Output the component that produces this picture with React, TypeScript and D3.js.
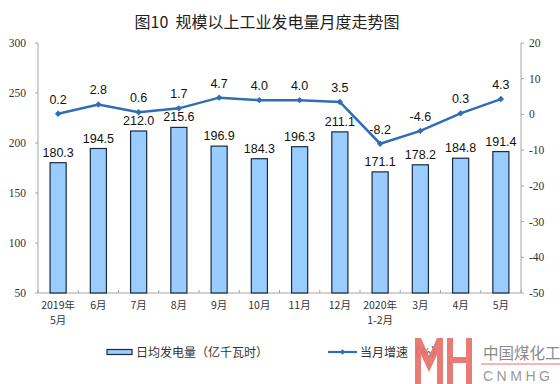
import React from "react";
import * as d3 from "d3";

const categories = ["2019年\n5月", "6月", "7月", "8月", "9月", "10月", "11月", "12月", "2020年\n1-2月", "3月", "4月", "5月"];
const dailyOutput = [180.3, 194.5, 212.0, 215.6, 196.9, 184.3, 196.3, 211.1, 171.1, 178.2, 184.8, 191.4];
const growth = [0.2, 2.8, 0.6, 1.7, 4.7, 4.0, 4.0, 3.5, -8.2, -4.6, 0.3, 4.3];
const leftTicks = [50, 100, 150, 200, 250, 300];
const rightTicks = [20, 10, 0, -10, -20, -30, -40, -50];
const title = "图10\u00a0\u00a0规模以上工业发电量月度走势图";
const legendBar = "日均发电量（亿千瓦时）";
const legendLine = "当月增速（%）";

const W = 560, H = 384;
const L = 38, R = 521, T = 43, B = 293;
const BAR_FILL = "#99CCFF";
const BAR_STROKE = "#1a2a40";
const LINE = "#2F6DB5";
const AXIS = "#a6a6a6";
const cjk = "'Noto Sans CJK SC', sans-serif";

export default function App() {
  const x = d3.scaleBand<number>().domain(d3.range(categories.length)).range([L, R]).paddingInner(0.6).paddingOuter(0.3);
  const xc = (i: number) => (x(i) as number) + x.bandwidth() / 2;
  const band = (R - L) / categories.length;
  const yL = d3.scaleLinear().domain([50, 300]).range([B, T]);
  const yR = d3.scaleLinear().domain([-50, 20]).range([B, T]);
  const line = d3.line<number>().x((_, i) => xc(i)).y((d) => yR(d));
  const diamond = (cx: number, cy: number, s = 3.2) => `M${cx},${cy - s}L${cx + s},${cy}L${cx},${cy + s}L${cx - s},${cy}Z`;

  return (
    <svg width={W} height={H} style={{ position: "absolute", left: 0, top: 0, background: "#fff" }}>
      <text x={267} y={28} textAnchor="middle" fontFamily={cjk} fontSize={16} fill="#222">{title}</text>

      {/* axes */}
      <line x1={L} x2={L} y1={T} y2={B} stroke={AXIS} />
      <line x1={R} x2={R} y1={T} y2={B} stroke={AXIS} />
      <line x1={L} x2={R} y1={B} y2={B} stroke={AXIS} />
      {leftTicks.map((t) => (
        <g key={"l" + t}>
          <line x1={L - 3} x2={L} y1={yL(t)} y2={yL(t)} stroke={AXIS} />
          <text x={26} y={yL(t) + 4} textAnchor="end" fontFamily="'Liberation Serif', serif" fontSize={11.5} fill="#333">{t}</text>
        </g>
      ))}
      {rightTicks.map((t) => (
        <g key={"r" + t}>
          <line x1={R} x2={R + 3} y1={yR(t)} y2={yR(t)} stroke={AXIS} />
          <text x={529} y={yR(t) + 4} textAnchor="start" fontFamily="'Liberation Serif', serif" fontSize={11.5} fill="#333">{t}</text>
        </g>
      ))}
      {d3.range(categories.length + 1).map((i) => (
        <line key={"xt" + i} x1={L + i * band} x2={L + i * band} y1={B} y2={B - 3} stroke={AXIS} />
      ))}
      {categories.map((c, i) => (
        <text key={"xl" + i} x={xc(i)} y={309} textAnchor="middle" fontFamily={cjk} fontSize={10.5} fill="#333">
          {c.split("\n").map((s, k) => (
            <tspan key={k} x={xc(i)} dy={k === 0 ? 0 : 15}>{s}</tspan>
          ))}
        </text>
      ))}

      {/* bars */}
      {dailyOutput.map((v, i) => (
        <g key={"b" + i}>
          <rect x={x(i)} y={yL(v)} width={x.bandwidth()} height={B - yL(v)} fill={BAR_FILL} stroke={BAR_STROKE} strokeWidth={1.2} />
          <text x={xc(i)} y={yL(v) - 6} textAnchor="middle" fontFamily="'Liberation Sans', Arial, sans-serif" fontSize={12.5} fill="#111">{v.toFixed(1)}</text>
        </g>
      ))}

      {/* line */}
      <path d={line(growth) || ""} fill="none" stroke={LINE} strokeWidth={2.5} />
      {growth.map((v, i) => (
        <g key={"p" + i}>
          <path d={diamond(xc(i), yR(v))} fill={LINE} />
          <text x={xc(i)} y={yR(v) - 10} textAnchor="middle" fontFamily="'Liberation Sans', Arial, sans-serif" fontSize={12.5} fill="#111">{v.toFixed(1)}</text>
        </g>
      ))}

      {/* legend */}
      <rect x={107} y={349.5} width={25} height={5} fill={BAR_FILL} stroke={BAR_STROKE} strokeWidth={1.2} />
      <text x={136} y={357} fontFamily={cjk} fontSize={12} fill="#333">{legendBar}</text>
      <line x1={328} x2={357} y1={352} y2={352} stroke={LINE} strokeWidth={2.2} />
      <path d={diamond(342.5, 352, 2.8)} fill={LINE} />
      <text x={360} y={357} fontFamily={cjk} fontSize={12} fill="#333">{legendLine}</text>

      {/* watermark */}
      <g fill="#E8706A" opacity={0.92}>
        <rect x={415} y={338} width={6} height={46} />
        <rect x={437} y={338} width={6} height={46} />
        <path d="M415,338 L421,338 L429,356 L437,338 L443,338 L443,342 L429,372 L415,342 Z" />
        <rect x={447} y={338} width={6} height={46} />
        <rect x={466} y={338} width={6} height={46} />
        <rect x={447} y={357} width={25} height={6} />
      </g>
      <text x={483} y={359} fontFamily={cjk} fontSize={15.5} fill="#8a8a8a">中国煤化工</text>
      <line x1={481} x2={560} y1={364} y2={364} stroke="#E8706A" strokeWidth={1} />
      <text x={483} y={381} fontFamily="'Liberation Sans', sans-serif" fontSize={14} fill="#9a9a9a" letterSpacing={3.5}>CNMHG</text>
    </svg>
  );
}
